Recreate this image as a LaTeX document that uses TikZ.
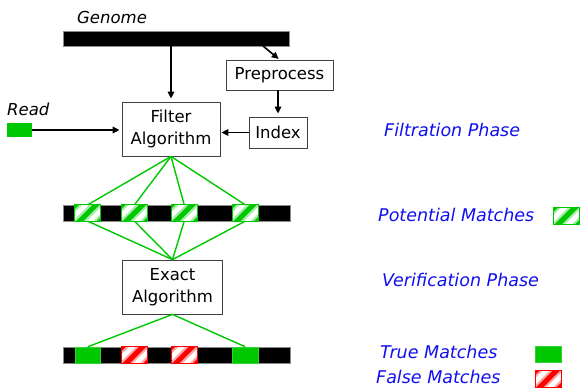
\documentclass[tikz,border=0pt]{standalone}
\usepackage{fontspec}
\setmainfont{DejaVu Sans}
\usetikzlibrary{arrows.meta}
\definecolor{matchgreen}{RGB}{0,200,0}
\definecolor{matchred}{RGB}{255,0,0}
\definecolor{phaseblue}{RGB}{15,15,240}

% hatched match box: name, x, y, colour
\newcommand\hatchbox[4]{%
  \node[hatch frame=#4] (#1) at (#2,#3) {};
  \begin{scope}
    \clip (#1.south west) rectangle (#1.north east);
    \foreach \k in {-1,0,1}{
      \draw[#4!35, line width=9.5pt, shift={(#2,#3)}] ({\k*20.5-13},13) -- ++(26,-26);
      \draw[#4, line width=5pt, shift={(#2,#3)}] ({\k*20.5-13},13) -- ++(26,-26);
    }
  \end{scope}
  \draw[#4, line width=0.8pt] (#1.south west) rectangle (#1.north east);
}

\begin{document}
\begin{tikzpicture}[x=1pt, y=-1pt,
  box/.style={draw=black!75, line width=0.8pt, fill=white, inner sep=0pt,
    align=center, font=\fontsize{16.5}{21.5}\selectfont},
  bar/.style={fill=black, draw=black!45, line width=0.5pt, inner sep=0pt,
    minimum height=16pt},
  hatch frame/.style={fill=white, inner sep=0pt, minimum width=25.5pt,
    minimum height=16pt},
  solidmatch/.style={fill=matchgreen, draw=matchgreen!80, line width=0.5pt,
    inner sep=0pt, minimum width=25.5pt, minimum height=16pt},
  arr/.style={-{Triangle[length=7pt,width=6.5pt]}, line width=1.6pt},
  link/.style={matchgreen, line width=1.4pt},
  tag/.style={anchor=base west, inner sep=0pt,
    font=\fontsize{16.5}{20}\selectfont\itshape},
  phase/.style={anchor=base west, inner sep=0pt, text=phaseblue,
    font=\fontsize{17.5}{20}\selectfont\itshape}]
\useasboundingbox (0,0) rectangle (580,388);

% genome and read inputs
\node[bar, minimum width=226pt, minimum height=15pt] (genome) at (176,38.5) {};
\node[tag] (genomelabel) at (77,23) {Genome};
\node[fill=matchgreen, inner sep=0pt, minimum width=25pt, minimum height=14pt] (read) at (19.5,130) {};
\node[tag] (readlabel) at (7,115) {Read};

% processing boxes
\node[box, minimum width=98pt, minimum height=54pt] (filter) at (171,129) {Filter\\Algorithm};
\node[box, minimum width=107pt, minimum height=30pt] (pre) at (279.5,75) {Preprocess};
\node[box, minimum width=58pt, minimum height=31pt] (idx) at (278,132.5) {Index};
\node[box, minimum width=100pt, minimum height=54pt] (exact) at (172.5,287) {Exact\\Algorithm};

\coordinate (gsplit) at (263,46);
\draw[arr, shorten >=3pt] (genome.south -| filter.north) -- (filter.north);
\draw[arr, shorten >=1pt] (gsplit) -- (pre.north);
\draw[arr, shorten >=3pt] (pre.south -| idx.north) -- (idx.north);
\draw[arr, shorten >=1pt] (idx.west) -- (idx.west -| filter.east);
\draw[arr, shorten >=2pt] (read.east) -- (read.east -| filter.west);

% potential matches
\node[bar, minimum width=227pt] (bartwo) at (176.3,213) {};
\hatchbox{p1}{87.8}{213}{matchgreen}
\hatchbox{p2}{134.5}{213}{matchgreen}
\hatchbox{p3}{184.2}{213}{matchgreen}
\hatchbox{p4}{245.2}{213}{matchgreen}

\foreach \p in {p1,p2,p3,p4}{
  \draw[link] (filter.south) -- (\p.north);
  \draw[link] (\p.south) -- (exact.north);
}

% verified matches
\node[bar, minimum width=227pt] (barthree) at (176.3,355) {};
\node[solidmatch] (t1) at (87.8,355) {};
\hatchbox{r2}{134.5}{355}{matchred}
\hatchbox{r3}{184.2}{355}{matchred}
\node[solidmatch] (t4) at (245.2,355) {};
\draw[link] (t1.north) -- (exact.south) -- (t4.north);

% phase labels and legend
\node[phase] (filtration) at (384,136) {Filtration Phase};
\node[phase] (potential) at (378,221.5) {Potential Matches};
\hatchbox{legp}{566.5}{216}{matchgreen}
\node[phase] (verification) at (382,286) {Verification Phase};
\node[phase] (truem) at (380,358) {True Matches};
\node[solidmatch] (legt) at (548,354.5) {};
\node[phase] (falsem) at (376,383) {False Matches};
\hatchbox{legf}{548}{379}{matchred}
\end{tikzpicture}
\end{document}
